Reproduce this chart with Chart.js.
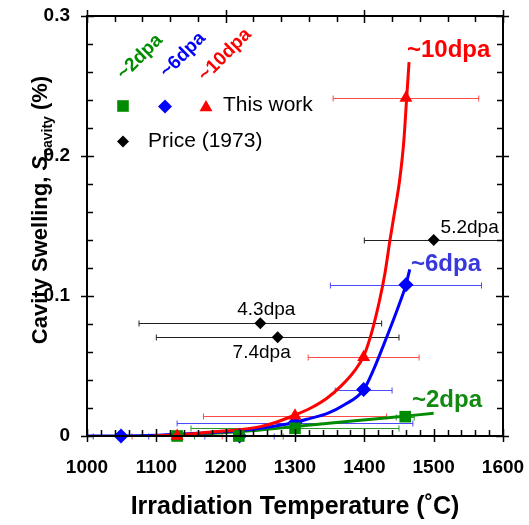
<!DOCTYPE html>
<html><head><meta charset="utf-8">
<script src="https://cdn.jsdelivr.net/npm/chart.js@4.4.1/dist/chart.umd.min.js"></script>
<style>html,body{margin:0;padding:0;background:#fff;overflow:hidden}#wrap{width:529px;height:525px;position:relative}</style>
</head><body><div id="wrap"><canvas id="c" width="529" height="525" style="width:529px;height:525px"></canvas></div>
<script>
// ---- axes ----
const xTickValues = [1000, 1100, 1200, 1300, 1400, 1500, 1600];
const yTickValues = [0, 0.1, 0.2, 0.3];
const xMinorStepBottom = 20, xMinorStepTop = 40, xMajorStepTop = 200;
const yMinorStep = 0.02;

// ---- This work: ~2dpa (green squares) ----
const green2T   = [1130, 1219, 1300, 1459];
const green2S   = [0.0, 0.0, 0.0055, 0.0138];
const green2Err = [0, 64, 150, 13];
// ---- This work: ~6dpa (blue diamonds) ----
const blue6T    = [1049, 1220, 1300, 1399, 1460];
const blue6S    = [0.0, 0.0, 0.0095, 0.0332, 0.108];
const blue6Err  = [40, 50, 170, 41, 109];
// ---- This work: ~10dpa (red triangles) ----
const red10T    = [1130, 1300, 1399, 1460];
const red10S    = [0.0, 0.0145, 0.0562, 0.2414];
const red10Err  = [65, 132, 80, 105];
// ---- Price (1973) ----
const priceT    = [1250, 1275, 1500];
const priceS    = [0.0805, 0.0705, 0.140];
const priceErr  = [175, 175, 100];
const priceLabels = ['4.3dpa', '7.4dpa', '5.2dpa'];

// ---- guide curves ----
const curve2T  = [1130, 1250, 1300, 1442, 1500];
const curve2S  = [0.0005, 0.0043, 0.0068, 0.0134, 0.0162];
const curve6T  = [1000, 1050, 1100, 1134, 1180, 1230, 1250, 1298, 1322, 1346, 1370, 1399, 1413, 1427, 1442, 1451, 1460, 1465.5];
const curve6S  = [0, 0, 0.0005, 0.0014, 0.0025, 0.0043, 0.0055, 0.0095, 0.0126, 0.016, 0.022, 0.033, 0.047, 0.064, 0.083, 0.095, 0.108, 0.119];
const curve10T = [1095, 1140, 1182, 1220, 1250, 1275, 1300, 1322, 1346, 1367, 1385, 1399, 1410, 1422, 1430, 1437, 1444, 1451, 1457, 1461, 1464.5];
const curve10S = [0, 0.001, 0.003, 0.0045, 0.0067, 0.0102, 0.015, 0.0198, 0.027, 0.036, 0.046, 0.057, 0.073, 0.097, 0.117, 0.14, 0.161, 0.183, 0.211, 0.241, 0.267];

const GREEN = '#008c00', BLUE = '#0000ff', RED = '#ff0000';
const FONT = '"Liberation Sans", Arial, Helvetica, sans-serif';

const pts = (xs, ys) => xs.map((x, i) => ({x, y: ys[i]}));

const errorBars = [
  {T: priceT, S: priceS, E: priceErr, color: '#222222'},
  {T: blue6T, S: blue6S, E: blue6Err, color: '#4a4aff'},
  {T: green2T, S: green2S, E: green2Err, color: '#2a962a'},
  {T: red10T, S: red10S, E: red10Err, color: '#ff4a4a'},
];

const errorBarPlugin = {
  id: 'errbars',
  beforeDatasetsDraw(chart) {
    const {ctx, scales: {x, y}} = chart;
    ctx.save();
    ctx.lineWidth = 1;
    errorBars.forEach(s => {
      ctx.strokeStyle = s.color;
      s.T.forEach((t, i) => {
        const e = s.E[i];
        if (!e) return;
        const py = Math.round(y.getPixelForValue(s.S[i])) + 0.5;
        const x1 = x.getPixelForValue(t - e), x2 = Math.min(x.getPixelForValue(t + e), x.right);
        ctx.beginPath();
        ctx.moveTo(x1, py); ctx.lineTo(x2, py);
        ctx.moveTo(x1, py - 3); ctx.lineTo(x1, py + 3);
        ctx.moveTo(x2, py - 3); ctx.lineTo(x2, py + 3);
        ctx.stroke();
      });
    });
    ctx.restore();
  }
};

const framePlugin = {
  id: 'frame',
  afterDraw(chart) {
    const {ctx, chartArea: a, scales: {x, y}} = chart;
    ctx.save();
    ctx.strokeStyle = '#000';
    ctx.lineWidth = 1.5;
    const maj = 6, min = 6;
    ctx.beginPath();
    for (let v = x.min; v <= x.max + 1e-6; v += xMinorStepBottom) {
      const px = Math.round(x.getPixelForValue(v)) + 0.5;
      const isMaj = Math.abs((v - x.min) % 100) < 1e-6;
      ctx.moveTo(px, a.bottom + (isMaj ? maj : 0)); ctx.lineTo(px, a.bottom - (isMaj ? 7 : min));
    }
    for (let v = x.min; v <= x.max + 1e-6; v += xMinorStepTop) {
      const px = Math.round(x.getPixelForValue(v)) + 0.5;
      const isMaj = Math.abs((v - x.min) % xMajorStepTop) < 1e-6;
      ctx.moveTo(px, a.top - (isMaj ? maj : 0)); ctx.lineTo(px, a.top + (isMaj ? 7 : min));
    }
    for (let k = 0; k <= Math.round((y.max - y.min) / yMinorStep); k++) {
      const v = y.min + k * yMinorStep;
      const py = Math.round(y.getPixelForValue(v)) + 0.5;
      const isMaj = k % 5 === 0;
      ctx.moveTo(a.left - (isMaj ? maj : 0), py); ctx.lineTo(a.left + (isMaj ? 7 : min), py);
      ctx.moveTo(a.right + (isMaj ? maj : 0), py); ctx.lineTo(a.right - (isMaj ? 7 : min), py);
    }
    ctx.stroke();
    ctx.lineWidth = 2;
    ctx.strokeRect(a.left, a.top, a.right - a.left, a.bottom - a.top);

    // y-axis title with subscript
    ctx.fillStyle = '#000';
    ctx.translate(39, 210);
    ctx.rotate(-Math.PI / 2);
    const parts = [
      {t: 'Cavity Swelling, ', f: 'bold 22px ' + FONT, dy: 0},
      {t: 'S', f: 'italic bold 22px ' + FONT, dy: 0},
      {t: 'cavity', f: 'bold 14px ' + FONT, dy: 5},
      {t: ' (%)', f: 'bold 22px ' + FONT, dy: 0},
    ];
    let w = 0;
    parts.forEach(p => { ctx.font = p.f; p.w = ctx.measureText(p.t).width; w += p.w; });
    let cx = -w / 2;
    ctx.textBaseline = 'alphabetic';
    ctx.textAlign = 'left';
    parts.forEach(p => { ctx.font = p.f; ctx.fillText(p.t, cx, 8 + p.dy); cx += p.w; });
    ctx.restore();
  }
};

const textPlugin = {
  id: 'texts',
  afterDatasetsDraw(chart) {
    const {ctx, scales: {x, y}} = chart;
    ctx.save();
    ctx.textAlign = 'center';
    ctx.textBaseline = 'middle';
    const offs = [[6, -14], [-16, 15], [36, -12]];
    ctx.font = '19px ' + FONT;
    ctx.fillStyle = '#000';
    priceT.forEach((t, i) => {
      ctx.fillText(priceLabels[i], x.getPixelForValue(t) + offs[i][0], y.getPixelForValue(priceS[i]) + offs[i][1]);
    });
    ctx.font = 'bold 24px ' + FONT;
    ctx.textAlign = 'left';
    ctx.fillStyle = RED;  ctx.fillText('~10dpa', 407, 50);
    ctx.fillStyle = '#3838dc'; ctx.fillText('~6dpa', 411, 264);
    ctx.fillStyle = '#128a12'; ctx.fillText('~2dpa', 412, 400);
    ctx.textAlign = 'center';
    ctx.font = 'bold 19px ' + FONT;
    [['~2dpa', GREEN, 140, 57], ['~6dpa', BLUE, 183, 55], ['~10dpa', RED, 225, 55]].forEach(([t, c, px, py]) => {
      ctx.save(); ctx.translate(px, py); ctx.rotate(-Math.PI / 4);
      ctx.fillStyle = c; ctx.fillText(t, 0, 0); ctx.restore();
    });
    const dp = Chart.helpers.drawPoint;
    ctx.fillStyle = GREEN; ctx.strokeStyle = GREEN;
    dp(ctx, {pointStyle: 'rect', radius: 8.2, rotation: 0, borderWidth: 0}, 123, 106);
    ctx.fillStyle = BLUE; ctx.strokeStyle = BLUE;
    dp(ctx, {pointStyle: 'rectRot', radius: 7, rotation: 0, borderWidth: 0}, 165, 106.5);
    ctx.fillStyle = RED; ctx.strokeStyle = RED;
    dp(ctx, {pointStyle: 'triangle', radius: 7.5, rotation: 0, borderWidth: 0}, 206, 107.5);
    ctx.fillStyle = '#000'; ctx.strokeStyle = '#000';
    dp(ctx, {pointStyle: 'rectRot', radius: 6, rotation: 0, borderWidth: 0}, 123, 141.5);
    ctx.textAlign = 'left';
    ctx.font = '21px ' + FONT;
    ctx.fillStyle = '#000';
    ctx.fillText('This work', 223, 105);
    ctx.fillText('Price (1973)', 148, 141);
    ctx.restore();
  }
};

const curveDs = (data, color, order) => ({
  type: 'scatter', data, showLine: true, borderColor: color, borderWidth: 3,
  pointRadius: 0, cubicInterpolationMode: 'monotone', order, fill: false
});
const markDs = (data, color, style, r, order) => ({
  type: 'scatter', data, pointStyle: style, pointRadius: r, pointHoverRadius: r,
  backgroundColor: color, borderColor: color, borderWidth: 0, order, clip: false
});

new Chart(document.getElementById('c'), {
  type: 'scatter',
  data: {
    datasets: [
      markDs(pts(red10T, red10S), RED, 'triangle', 7.5, 0),
      markDs(pts(green2T, green2S), GREEN, 'rect', 8.2, 1),
      markDs(pts(blue6T, blue6S), BLUE, 'rectRot', 7.5, 2),
      markDs(pts(priceT, priceS), '#000', 'rectRot', 6, 3),
      curveDs(pts(curve10T, curve10S), RED, 4),
      curveDs(pts(curve6T, curve6S), BLUE, 5),
      curveDs(pts(curve2T, curve2S), GREEN, 6),
    ]
  },
  plugins: [errorBarPlugin, textPlugin, framePlugin],
  options: {
    responsive: false, animation: false, devicePixelRatio: 1,
    layout: {padding: {left: 0, top: 16, right: 26, bottom: 0}},
    plugins: {legend: {display: false}, tooltip: {enabled: false}},
    scales: {
      x: {
        type: 'linear', min: 1000, max: 1600,
        afterBuildTicks: s => { s.ticks = xTickValues.map(v => ({value: v})); },
        afterFit: s => { s.height = 89; s.paddingLeft = 0; s.paddingRight = 0; },
        grid: {display: false, drawTicks: false},
        border: {display: false},
        ticks: {color: '#000', font: {family: FONT, size: 19, weight: 'bold'}, padding: 20, maxRotation: 0, autoSkip: false,
          callback: v => String(v)},
        title: {display: true, text: 'Irradiation Temperature (˚C)', color: '#000', font: {family: FONT, size: 25, weight: 'bold'}, padding: {top: 4, bottom: 3}}
      },
      y: {
        type: 'linear', min: 0, max: 0.3,
        afterBuildTicks: s => { s.ticks = yTickValues.map(v => ({value: v})); },
        afterFit: s => { s.width = 87; s.paddingTop = 0; s.paddingBottom = 0; },
        grid: {display: false, drawTicks: false},
        border: {display: false},
        ticks: {color: '#000', font: {family: FONT, size: 19, weight: 'bold'}, padding: 17,
          callback: v => (v === 0 ? '0' : String(Math.round(v * 10) / 10))}
      }
    }
  }
});
</script></body></html>
